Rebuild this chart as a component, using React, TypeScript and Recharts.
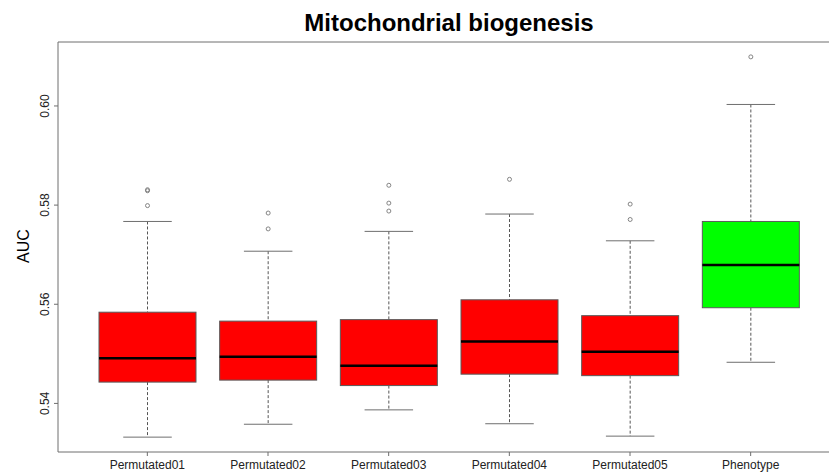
import React from 'react';
import { ComposedChart, Bar, XAxis, YAxis, ReferenceLine } from 'recharts';

const categories = ['Permutated01', 'Permutated02', 'Permutated03', 'Permutated04', 'Permutated05', 'Phenotype'];
const lowerWhisker = [0.5332, 0.5358, 0.5387, 0.5359, 0.5334, 0.5483];
const firstQuartile = [0.5443, 0.5447, 0.5436, 0.5459, 0.5456, 0.5593];
const medians = [0.5491, 0.5494, 0.5476, 0.5525, 0.5504, 0.5679];
const thirdQuartile = [0.5584, 0.5566, 0.5569, 0.5609, 0.5577, 0.5767];
const upperWhisker = [0.5767, 0.5707, 0.5747, 0.5782, 0.5728, 0.6003];
const outlierValues = [
  [0.5829, 0.5831, 0.5799],
  [0.5784, 0.5752],
  [0.584, 0.5804, 0.5788],
  [0.5852],
  [0.5802, 0.5771],
  [0.6099],
];
const boxColors = ['#FF0000', '#FF0000', '#FF0000', '#FF0000', '#FF0000', '#00FF00'];
const yTicks = [0.54, 0.56, 0.58, 0.6];
const yDomain: [number, number] = [0.5302, 0.6129];

const data = categories.map((name, i) => ({
  name,
  range: [lowerWhisker[i], upperWhisker[i]],
  q1: firstQuartile[i],
  median: medians[i],
  q3: thirdQuartile[i],
  lo: lowerWhisker[i],
  hi: upperWhisker[i],
  outliers: outlierValues[i],
  idx: i,
}));

const FRAME = '#6e6e6e';
const FONT = 'Liberation Sans, Arial, sans-serif';

const BoxShape = (props: any) => {
  const { x, y, width, height, payload } = props;
  if (payload == null || height == null) return null;
  const { lo, hi, q1, q3, median, outliers, idx } = payload;
  const k = height / (hi - lo);
  const toY = (v: number) => y + (hi - v) * k;
  const cx = x + width / 2;
  const capHalf = width / 4;
  const yQ1 = toY(q1);
  const yQ3 = toY(q3);
  const yMed = toY(median);
  const yLo = toY(lo);
  const yHi = toY(hi);
  return (
    <g>
      <line x1={cx} x2={cx} y1={yHi} y2={yQ3} stroke="#555" strokeWidth={1} strokeDasharray="3 2" />
      <line x1={cx} x2={cx} y1={yQ1} y2={yLo} stroke="#555" strokeWidth={1} strokeDasharray="3 2" />
      <line x1={cx - capHalf} x2={cx + capHalf} y1={yHi} y2={yHi} stroke={FRAME} strokeWidth={1} />
      <line x1={cx - capHalf} x2={cx + capHalf} y1={yLo} y2={yLo} stroke={FRAME} strokeWidth={1} />
      <rect x={x} y={yQ3} width={width} height={yQ1 - yQ3} fill={boxColors[idx]} stroke="#5a5a5a" strokeWidth={1} />
      <line x1={x} x2={x + width} y1={yMed} y2={yMed} stroke="#000" strokeWidth={2.5} />
      {outliers.map((v: number, j: number) => (
        <circle key={j} cx={cx} cy={toY(v)} r={2} fill="none" stroke="#777" strokeWidth={0.9} />
      ))}
    </g>
  );
};

const YTick = (props: any) => {
  const { x, y, payload } = props;
  const tx = x - 3;
  return (
    <text x={tx} y={y} transform={`rotate(-90 ${tx} ${y})`} textAnchor="middle" fontSize={12} fontFamily={FONT} fill="#222">
      {Number(payload.value).toFixed(2)}
    </text>
  );
};

const XTick = (props: any) => {
  const { x, y, payload } = props;
  return (
    <text x={x} y={y + 11} textAnchor="middle" fontSize={12} fontFamily={FONT} fill="#222">
      {payload.value}
    </text>
  );
};

export default function App() {
  return (
    <div style={{ position: 'absolute', left: 0, top: 0, width: 829, height: 475, overflow: 'hidden', background: '#fff' }}>
      <ComposedChart
        width={850}
        height={475}
        data={data}
        margin={{ top: 42, right: 10, bottom: 0, left: 0 }}
      >
        <XAxis
          dataKey="name"
          height={23}
          padding={{ left: 29, right: 29 }}
          tickSize={4}
          tickLine={{ stroke: FRAME }}
          axisLine={{ stroke: FRAME }}
          tick={<XTick />}
          interval={0}
        />
        <YAxis
          type="number"
          domain={yDomain}
          ticks={yTicks}
          allowDataOverflow
          width={58}
          tickSize={4}
          tickLine={{ stroke: FRAME }}
          axisLine={{ stroke: FRAME }}
          tick={<YTick />}
        />
        <ReferenceLine y={yDomain[1]} stroke={FRAME} strokeWidth={1} />
        <Bar dataKey="range" barSize={97} shape={<BoxShape />} isAnimationActive={false} />
      </ComposedChart>
      <svg width={829} height={475} style={{ position: 'absolute', left: 0, top: 0, pointerEvents: 'none' }}>
        <text x={449} y={31} textAnchor="middle" fontSize={24} fontWeight="bold" fontFamily={FONT} fill="#000">
          Mitochondrial biogenesis
        </text>
        <text x={28.5} y={246} transform="rotate(-90 28.5 246)" textAnchor="middle" fontSize={16} fontFamily={FONT} fill="#000">
          AUC
        </text>
      </svg>
    </div>
  );
}
